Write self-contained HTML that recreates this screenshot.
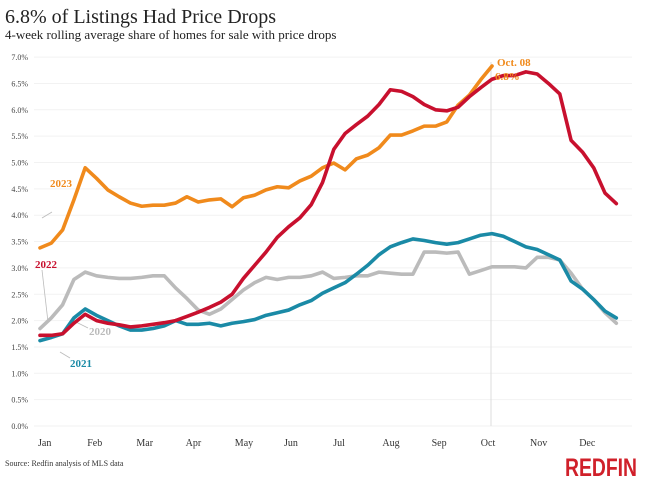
<!DOCTYPE html>
<html><head><meta charset="utf-8"><style>
body{margin:0;background:#fff;width:645px;height:480px;overflow:hidden;font-family:"Liberation Serif",serif}
</style></head><body>
<svg width="645" height="480">
<text x="5" y="23" font-size="20" fill="#222">6.8% of Listings Had Price Drops</text>
<text x="5" y="39" font-size="13" fill="#222">4-week rolling average share of homes for sale with price drops</text>
<g id="grid"></g><g id="ylab"></g><g id="xlab"></g>
<line x1="491" y1="62" x2="491" y2="426" stroke="#ddd" stroke-width="1"/>
<g id="leaders" stroke="#bbb" stroke-width="0.8" fill="none">
<path d="M42 218 L52 212"/>
<path d="M42 270 L48 322"/>
<path d="M76 322 L88 328"/>
<path d="M60 352 L70 358"/>
</g>
<g id="series"></g>
<text x="50" y="187" font-size="11" font-weight="bold" fill="#f08a1c">2023</text>
<text x="35" y="268" font-size="11" font-weight="bold" fill="#c8102e">2022</text>
<text x="89" y="335" font-size="11" font-weight="bold" fill="#bbb">2020</text>
<text x="70" y="367" font-size="11" font-weight="bold" fill="#1a8aa6">2021</text>
<text x="497" y="66" font-size="11" font-weight="bold" fill="#f08a1c">Oct. 08</text>
<text x="495" y="80" font-size="11" font-weight="bold" fill="#f08a1c">6.8%</text>
<text x="5" y="466" font-size="8" fill="#333">Source: Redfin analysis of MLS data</text>
<text x="565" y="476" font-size="25" font-weight="bold" fill="#d0202a" font-family="Liberation Sans Narrow, Liberation Sans, sans-serif" textLength="72" lengthAdjust="spacingAndGlyphs">REDFIN</text>
</svg>
<script>
const yTicks=[0,0.5,1,1.5,2,2.5,3,3.5,4,4.5,5,5.5,6,6.5,7];
const months=["Jan","Feb","Mar","Apr","May","Jun","Jul","Aug","Sep","Oct","Nov","Dec"];
const s2020=[1.85,2.05,2.3,2.78,2.92,2.85,2.82,2.8,2.8,2.82,2.85,2.85,2.62,2.42,2.2,2.12,2.22,2.4,2.58,2.72,2.82,2.78,2.82,2.82,2.85,2.92,2.8,2.82,2.85,2.85,2.92,2.9,2.88,2.88,3.3,3.3,3.28,3.3,2.88,2.95,3.02,3.02,3.02,3.0,3.2,3.2,3.15,2.9,2.6,2.4,2.15,1.95];
const s2021=[1.62,1.68,1.75,2.05,2.22,2.1,2.0,1.9,1.82,1.82,1.85,1.9,2.0,1.93,1.93,1.95,1.9,1.95,1.98,2.02,2.1,2.15,2.2,2.3,2.38,2.52,2.62,2.72,2.88,3.05,3.25,3.4,3.48,3.55,3.52,3.48,3.45,3.48,3.55,3.62,3.65,3.6,3.5,3.4,3.35,3.25,3.15,2.75,2.6,2.4,2.18,2.05];
const s2023=[3.38,3.47,3.72,4.29,4.9,4.7,4.48,4.35,4.23,4.17,4.19,4.19,4.23,4.35,4.25,4.29,4.31,4.16,4.33,4.38,4.48,4.54,4.52,4.65,4.74,4.9,4.99,4.86,5.07,5.14,5.28,5.52,5.52,5.6,5.69,5.69,5.77,6.09,6.28,6.57,6.83];
const s2022=[1.72,1.72,1.75,1.95,2.12,2.0,1.95,1.92,1.88,1.9,1.93,1.96,2.0,2.08,2.16,2.25,2.35,2.5,2.8,3.05,3.3,3.58,3.78,3.95,4.2,4.62,5.25,5.55,5.72,5.88,6.1,6.38,6.35,6.25,6.1,6.0,5.98,6.05,6.25,6.42,6.58,6.65,6.65,6.72,6.68,6.5,6.3,5.42,5.2,4.9,4.42,4.22];
const NS="http://www.w3.org/2000/svg";
const y=v=>426-v*52.7, x=w=>40+w*11.3, mx=i=>38+i*49.2;
function mk(t,a,p){const e=document.createElementNS(NS,t);for(const k in a)e.setAttribute(k,a[k]);document.getElementById(p).appendChild(e);return e;}
yTicks.forEach(v=>{
 const l=mk('line',{x1:34,x2:632,y1:y(v),y2:y(v),stroke:'#f2f2f2'},'grid');
 
 
 const t=mk('text',{x:28,y:y(v)+3,'font-size':8,fill:'#444','text-anchor':'end'},'ylab');
 t.textContent=v.toFixed(1)+'%';
 
 
});
months.forEach((m,i)=>{
 const t=mk('text',{x:mx(i),y:446,'font-size':10,fill:'#333'},'xlab');
 t.textContent=m;
 
 
});
[[s2020,'#bbb','line-2020'],[s2021,'#1a8aa6','line-2021'],[s2023,'#f08a1c','line-2023'],[s2022,'#c8102e','line-2022']].forEach(([d,c,n])=>{
 const p=mk('polyline',{points:d.map((v,i)=>x(i)+','+y(v)).join(' '),fill:'none',stroke:c,'stroke-width':3.6,'stroke-linejoin':'round','stroke-linecap':'round'},'series');
 
 
});
</script>
</body></html>
